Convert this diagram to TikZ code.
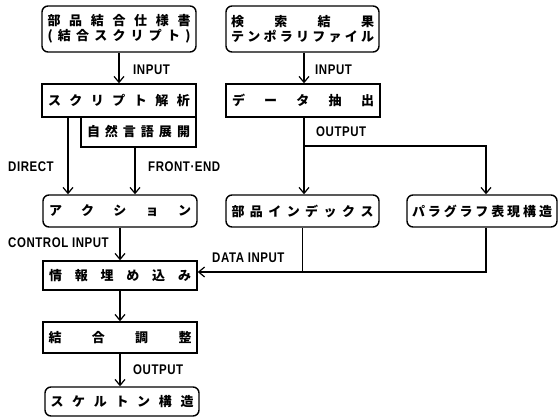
\documentclass[tikz,border=0pt]{standalone}
\usepackage{fontspec}
\usetikzlibrary{arrows.meta}
\newfontfamily\jpfont{Noto Sans CJK JP}
\newfontfamily\lblfont[FakeStretch=0.82,LetterSpace=4]{Liberation Sans}
\newcommand\spreadtxt[2]{\makebox[#1]{#2}}
\tikzset{
  boxbase/.style={draw, line width=1.4pt, inner sep=0pt, align=center,
    font=\jpfont\bfseries\fontsize{13}{15}\selectfont},
  rbox/.style={boxbase, rounded corners=6pt},
  sbox/.style={boxbase},
  arr/.style={line width=1.3pt, -{Straight Barb[length=6pt,width=10pt,line width=1.2pt]}},
  ln/.style={line width=1.3pt},
  lbl/.style={anchor=west, inner sep=0pt, font=\lblfont\bfseries\fontsize{14}{16}\selectfont}
}
\begin{document}
\begin{tikzpicture}[x=1pt,y=-1pt]
\useasboundingbox (0,0) rectangle (559,417);

% boxes
\node[rbox, minimum width=154pt, minimum height=46pt] (b1) at (119,29)
  {\spreadtxt{143pt}{部\hfill 品\hfill 結\hfill 合\hfill 仕\hfill 様\hfill 書}\\
   \spreadtxt{143pt}{(\hfill 結\hfill 合\hfill ス\hfill ク\hfill リ\hfill プ\hfill ト\hfill )}};
\node[rbox, minimum width=153pt, minimum height=46pt] (b2) at (302.5,29)
  {\spreadtxt{143pt}{検\hfill 索\hfill 結\hfill 果}\\
   \spreadtxt{143pt}{テ\hfill ン\hfill ポ\hfill ラ\hfill リ\hfill フ\hfill ァ\hfill イ\hfill ル}};
\node[sbox, minimum width=154pt, minimum height=33pt] (b3) at (119,100.5)
  {\spreadtxt{142pt}{ス\hfill ク\hfill リ\hfill プ\hfill ト\hfill 解\hfill 析}};
\node[sbox, minimum width=115pt, minimum height=30pt] (b4) at (138.5,132)
  {\spreadtxt{103pt}{自\hfill 然\hfill 言\hfill 語\hfill 展\hfill 開}};
\node[sbox, minimum width=154pt, minimum height=33pt] (b5) at (303,100.5)
  {\spreadtxt{142pt}{デ\hfill ー\hfill タ\hfill 抽\hfill 出}};
\node[rbox, minimum width=154pt, minimum height=32pt] (b6) at (120,211)
  {\spreadtxt{142pt}{ア\hfill ク\hfill シ\hfill ョ\hfill ン}};
\node[rbox, minimum width=153pt, minimum height=32pt] (b7) at (302.5,211)
  {\spreadtxt{142pt}{部\hfill 品\hfill イ\hfill ン\hfill デ\hfill ッ\hfill ク\hfill ス}};
\node[rbox, minimum width=150pt, minimum height=32pt] (b8) at (482,211)
  {\spreadtxt{140pt}{パ\hfill ラ\hfill グ\hfill ラ\hfill フ\hfill 表\hfill 現\hfill 構\hfill 造}};
\node[sbox, minimum width=154pt, minimum height=29pt] (b9) at (120,275.5)
  {\spreadtxt{142pt}{情\hfill 報\hfill 埋\hfill め\hfill 込\hfill み}};
\node[sbox, minimum width=154pt, minimum height=31pt] (b10) at (120,337.5)
  {\spreadtxt{143pt}{結\hfill 合\hfill 調\hfill 整}};
\node[rbox, minimum width=154pt, minimum height=29pt] (b11) at (122,401.5)
  {\spreadtxt{143pt}{ス\hfill ケ\hfill ル\hfill ト\hfill ン\hfill 構\hfill 造}};

% helper coordinates
\coordinate (h1) at (0,146);
\coordinate (h2) at (0,272);
\coordinate (xd) at (68,0);
\coordinate (xf) at (135,0);
\coordinate (x8) at (486,0);
\coordinate (x5) at (304,0);

% connectors
\draw[arr] (b1.south) -- (b3.north);
\draw[arr] (x5 |- b2.south) -- (x5 |- b5.north);
\draw[ln] (x5 |- b5.south) -- (x5 |- h1);
\draw[arr] (x5 |- h1) -- (x5 |- b7.north);
\draw[arr] (x5 |- h1) -- (x8 |- h1) -- (x8 |- b8.north);
\draw[arr] (xd |- b3.south) -- (xd |- b6.north);
\draw[arr] (xf |- b4.south) -- (xf |- b6.north);
\draw[arr] (b6.south) -- (b9.north);
\draw[ln] (b7.south) -- (b7.south |- h2);
\draw[arr] (x8 |- b8.south) -- (x8 |- h2) -- (b9.east |- h2);
\draw[arr] (b9.south) -- (b10.north);
\draw[arr] (b10.south) -- (b10.south |- b11.north);

% labels
\node[lbl] (l1) at (133,70) {INPUT};
\node[lbl] (l2) at (315,70) {INPUT};
\node[lbl] (l3) at (316,132) {OUTPUT};
\node[lbl] (l4) at (8,167) {DIRECT};
\node[lbl] (l5) at (148,167) {FRONT·END};
\node[lbl] (l6) at (8,243) {CONTROL INPUT};
\node[lbl] (l7) at (212,258) {DATA INPUT};
\node[lbl] (l8) at (133,370) {OUTPUT};
\end{tikzpicture}
\end{document}
